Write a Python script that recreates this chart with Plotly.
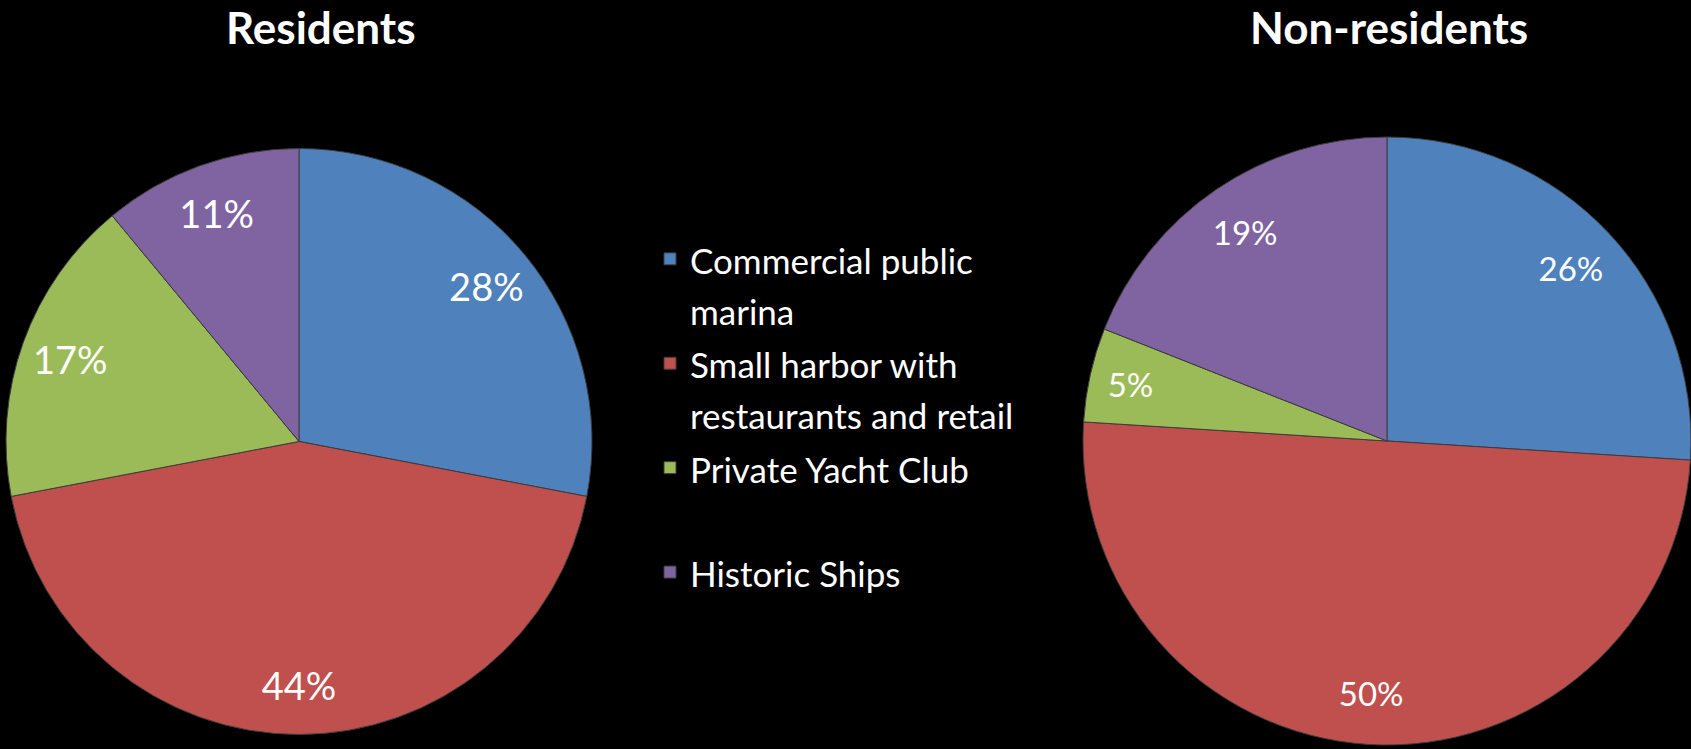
import plotly.graph_objects as go

# Boat-facility preference shares (%), residents vs. non-residents
categories = [
    "Commercial public<br>marina",
    "Small harbor with<br>restaurants and retail",
    "Private Yacht Club<br> ",
    "Historic Ships",
]
residents = [28, 44, 17, 11]
non_residents = [26, 50, 5, 19]
panel_titles = ["Residents", "Non-residents"]

colors = ["#4F81BD", "#C0504D", "#9BBB59", "#8064A2"]
FONT = "Lato, 'Open Sans', sans-serif"
W, H = 1691, 749


def px_domain(x0, x1, y0, y1):
    """Convert a pixel box (top-left origin) into a paper-space domain."""
    return dict(x=[max(0, x0 / W), min(1, x1 / W)],
                y=[max(0, (H - y1) / H), min(1, (H - y0) / H)])


# legend entries: glyphs at 35px while the legend line pitch follows a larger size
legend_labels = [f'<span style="font-size:35px">{c}</span>' for c in categories]

panels = [
    (residents, panel_titles[0], px_domain(6, 592, 148.5, 734.5), 38),
    (non_residents, panel_titles[1], px_domain(1083, 1691, 135.5, 746.5), 33),
]

fig = go.Figure()

for values, name, domain, label_size in panels:
    # filled slices
    fig.add_trace(go.Pie(
        labels=legend_labels, values=values, name=name,
        sort=False, direction="clockwise", rotation=0, domain=domain,
        marker=dict(colors=colors, line=dict(color="#3c3c3c", width=1)),
        textinfo="none", hoverinfo="percent",
    ))
    # transparent ring on top carrying the percentage labels near the rim
    fig.add_trace(go.Pie(
        labels=legend_labels, values=values, name=name,
        sort=False, direction="clockwise", rotation=0, domain=domain,
        hole=0.66, showlegend=False, hoverinfo="skip",
        marker=dict(colors=["rgba(0,0,0,0)"] * len(values),
                    line=dict(width=0)),
        textinfo="percent", textposition="inside",
        insidetextorientation="horizontal",
        textfont=dict(family=FONT, size=label_size, color="white"),
    ))

# Panel headings
for title, xc in zip(panel_titles, [321, 1389]):
    fig.add_annotation(
        text=f"<b>{title}</b>", x=xc / W, y=1,
        xref="paper", yref="paper", xanchor="center", yanchor="top",
        showarrow=False, borderpad=0,
        font=dict(family=FONT, size=44, color="white"),
    )

fig.update_layout(
    width=W, height=H,
    margin=dict(l=0, r=0, t=0, b=0),
    paper_bgcolor="black", plot_bgcolor="black",
    showlegend=True,
    legend=dict(
        x=650 / W, y=1 - 227 / H, xanchor="left", yanchor="top",
        valign="top", bgcolor="rgba(0,0,0,0)",
        font=dict(family=FONT, size=39, color="white"),
    ),
)

fig.write_html("out.html")
